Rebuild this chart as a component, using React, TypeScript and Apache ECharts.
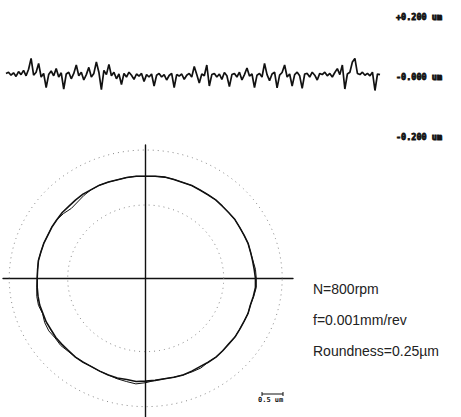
import React, { useEffect, useRef } from "react";
import * as echarts from "echarts";

// ---- Linear (unrolled) profile trace, µm ----
const traceValues: number[] = [
  0.012, 0.016, 0.006, 0.014, 0.002, 0.018, 0.008, 0.022, 0.004, 0.026,
  0.062, 0.006, 0.016, 0.045, 0.0, 0.012, -0.035, 0.008, 0.02, 0.004,
  0.028, 0.0, 0.014, -0.04, 0.01, 0.016, -0.006, 0.012, 0.04, 0.004,
  0.016, -0.01, 0.008, 0.032, 0.0, 0.012, 0.05, 0.016, -0.042, 0.022,
  0.008, 0.042, 0.004, 0.016, -0.006, 0.01, -0.025, 0.012, 0.0, 0.016,
  0.006, -0.008, 0.01, 0.003, 0.012, -0.015, 0.008, 0.0, 0.01, -0.03,
  0.006, 0.012, 0.0, 0.008, -0.01, 0.005, 0.012, -0.035, 0.008, 0.003,
  0.01, -0.008, 0.006, 0.012, 0.0, 0.035, 0.008, -0.02, 0.01, 0.004,
  0.04, -0.03, 0.008, 0.012, 0.0, 0.01, -0.008, 0.015, 0.004, -0.032,
  0.008, 0.012, 0.0, 0.016, -0.01, 0.008, 0.03, 0.003, 0.01, -0.035,
  0.006, 0.012, 0.0, 0.045, 0.008, -0.012, 0.01, 0.016, -0.036, 0.006,
  0.015, 0.04, 0.0, 0.01, -0.03, 0.008, 0.016, 0.004, -0.038, 0.01,
  0.012, 0.0, 0.016, 0.006, -0.01, 0.012, 0.008, 0.016, 0.004, 0.012,
  0.0, 0.015, 0.028, 0.008, 0.04, -0.04, 0.01, 0.016, 0.05, 0.062,
  0.012, 0.008, 0.016, 0.006, 0.012, 0.004, 0.016, -0.045, 0.01, 0.008,
];
const traceTickValues: number[] = [-0.2, 0, 0.2];
const traceTickLabels: string[] = ["-0.200 um", "-0.000 um", "+0.200 um"];

// ---- Polar profile: radial deviation (µm) every 5° ----
const profileAngles: number[] = [
  0, 5, 10, 15, 20, 25, 30, 35, 40, 45, 50, 55, 60, 65, 70, 75, 80, 85,
  90, 95, 100, 105, 110, 115, 120, 125, 130, 135, 140, 145, 150, 155, 160, 165, 170, 175,
  180, 185, 190, 195, 200, 205, 210, 215, 220, 225, 230, 235, 240, 245, 250, 255, 260, 265,
  270, 275, 280, 285, 290, 295, 300, 305, 310, 315, 320, 325, 330, 335, 340, 345, 350, 355,
];
const pass1Dev: number[] = [
  0.03, 0.01, 0.0, 0.0, 0.01, 0.0, 0.0, 0.01, 0.0, 0.0, 0.01, 0.0, 0.0, 0.01, 0.0, 0.01, 0.02, 0.01,
  0.0, 0.01, 0.01, 0.0, 0.01, 0.02, 0.01, 0.02, 0.01, 0.0, 0.01, 0.0, 0.0, -0.01, 0.0, 0.0, 0.01, 0.0,
  0.0, 0.01, 0.02, 0.03, 0.02, 0.03, 0.02, 0.03, 0.02, 0.01, 0.02, 0.01, 0.0, 0.01, 0.02, 0.03, 0.02, 0.04,
  0.02, 0.01, 0.0, 0.01, 0.02, 0.01, 0.0, 0.01, 0.02, 0.01, 0.0, 0.01, 0.0, 0.0, 0.01, 0.0, 0.02, 0.04,
];
const pass2Dev: number[] = [
  0.05, 0.04, 0.01, 0.0, 0.01, 0.0, 0.0, 0.01, 0.0, 0.0, 0.01, 0.0, 0.0, 0.01, 0.0, 0.01, 0.02, 0.01,
  0.0, 0.01, 0.01, 0.0, 0.01, 0.02, 0.01, -0.02, -0.06, -0.08, -0.03, 0.0, 0.0, -0.01, 0.0, 0.0, 0.01, 0.0,
  0.0, 0.02, 0.05, 0.06, 0.03, 0.07, 0.08, 0.05, 0.06, 0.03, 0.02, 0.01, 0.0, 0.01, 0.02, 0.05, 0.07, 0.1,
  0.06, 0.01, 0.0, 0.01, 0.02, 0.03, 0.04, 0.01, 0.02, 0.01, 0.0, 0.01, 0.0, 0.0, 0.01, 0.0, 0.03, 0.06,
];
const refRadii: number[] = [78, 136.5];
const annotations: string[] = ["N=800rpm", "f=0.001mm/rev", "Roundness=0.25\u00b5m"];

const BASE_R = 108.5; // plot units
const MAG = 42; // plot units per µm
const XMIN = -142.7, XMAX = 147.3, YMIN = -147.5, YMAX = 141.8;

function polarToXY(r: number, deg: number): [number, number] {
  const t = (deg * Math.PI) / 180;
  return [r * Math.cos(t), r * Math.sin(t)];
}

export default function App() {
  const ref = useRef<HTMLDivElement>(null);
  useEffect(() => {
    if (!ref.current) return;
    const chart = echarts.init(ref.current, undefined, { renderer: "svg" });

    const profile = (dev: number[]) => {
      const pts = profileAngles.map((a, i) => polarToXY(BASE_R + dev[i] * MAG, a));
      pts.push(pts[0]);
      return pts;
    };
    const ring = (r: number) => {
      const pts: [number, number][] = [];
      for (let a = 0; a <= 360; a += 2) pts.push(polarToXY(r, a));
      return pts;
    };
    const barLen = (0.5 * MAG * 290) / (XMAX - XMIN);

    chart.setOption({
      animation: false,
      backgroundColor: "#ffffff",
      grid: [
        { left: 6, right: 81, top: 17, height: 120 },
        { left: 3, width: 290, top: 145, height: 272 },
      ],
      xAxis: [
        { gridIndex: 0, type: "category", boundaryGap: false, data: traceValues.map((_, i) => i), show: false },
        {
          gridIndex: 1, type: "value", min: XMIN, max: XMAX,
          axisLine: { onZero: true, lineStyle: { color: "#111", width: 1.4 } },
          axisTick: { show: false }, axisLabel: { show: false }, splitLine: { show: false },
        },
      ],
      yAxis: [
        {
          gridIndex: 0, type: "value", min: -0.2, max: 0.2, interval: 0.2, position: "right",
          axisLine: { show: false }, axisTick: { show: false }, splitLine: { show: false },
          axisLabel: {
            margin: 16, color: "#111", fontFamily: "DejaVu Sans Mono", fontWeight: "bold", fontSize: 8.5,
            textBorderColor: "#111", textBorderWidth: 0.8,
            formatter: (v: number) => {
              const idx = traceTickValues.findIndex((t) => Math.abs(t - v) < 1e-6);
              return idx >= 0 ? traceTickLabels[idx] : "";
            },
          },
        },
        {
          gridIndex: 1, type: "value", min: YMIN, max: YMAX,
          axisLine: { onZero: true, lineStyle: { color: "#111", width: 1.4 } },
          axisTick: { show: false }, axisLabel: { show: false }, splitLine: { show: false },
        },
      ],
      series: [
        {
          type: "line", xAxisIndex: 0, yAxisIndex: 0, data: traceValues, symbol: "none",
          lineStyle: { color: "#111", width: 1.7 },
        },
        ...refRadii.map((r) => ({
          type: "line", xAxisIndex: 1, yAxisIndex: 1, data: ring(r), symbol: "none",
          lineStyle: { color: "#888", width: 1, type: [1, 4] },
        })),
        {
          type: "line", xAxisIndex: 1, yAxisIndex: 1, data: profile(pass1Dev), symbol: "none",
          lineStyle: { color: "#111", width: 1.6 },
        },
        {
          type: "line", xAxisIndex: 1, yAxisIndex: 1, data: profile(pass2Dev), symbol: "none",
          lineStyle: { color: "#111", width: 1 },
        },
      ],
      graphic: [
        ...annotations.map((t, i) => ({
          type: "text", left: 313, top: 282 + i * 31,
          style: { text: t, fill: "#222", font: "14px 'Liberation Sans', Arial, sans-serif" },
        })),
        { type: "line", shape: { x1: 262, y1: 394, x2: 262 + barLen, y2: 394 }, style: { stroke: "#111", lineWidth: 1 } },
        { type: "line", shape: { x1: 262, y1: 392, x2: 262, y2: 396 }, style: { stroke: "#111", lineWidth: 1 } },
        { type: "line", shape: { x1: 262 + barLen, y1: 392, x2: 262 + barLen, y2: 396 }, style: { stroke: "#111", lineWidth: 1 } },
        {
          type: "text", left: 258, top: 396,
          style: { text: "0.5 um", fill: "#111", font: "bold 7px 'DejaVu Sans Mono', monospace" },
        },
      ],
    });
    return () => chart.dispose();
  }, []);
  return <div ref={ref} style={{ position: "absolute", left: 0, top: 0, width: 461, height: 417 }} />;
}
